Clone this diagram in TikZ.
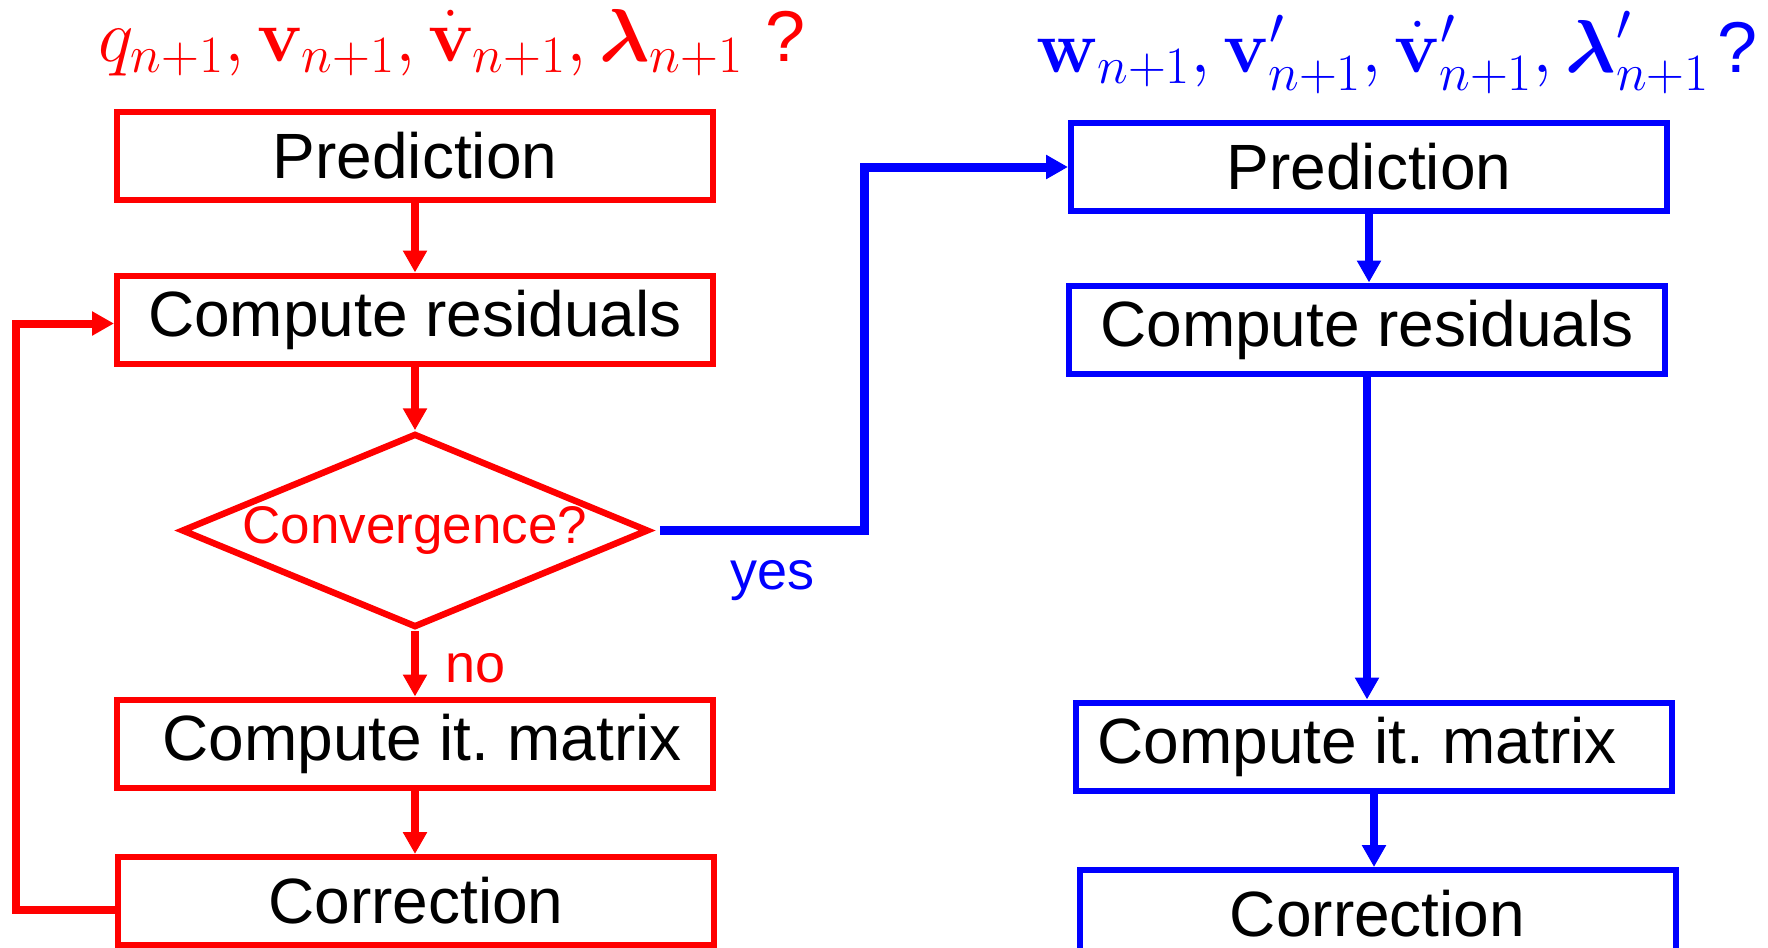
\documentclass[tikz,border=0pt]{standalone}
\usepackage{fix-cm}
\usepackage{amsmath}
\usepackage[no-math]{fontspec}
\newfontfamily\helv{Liberation Sans}
\usetikzlibrary{arrows.meta,shapes.geometric}

\tikzset{
	stage/.style={draw, line width=3pt, minimum width=298pt, minimum height=44pt, inner sep=0pt, text=black, font=\helv\fontsize{32}{38}\selectfont},
	test/.style={draw, diamond, aspect=2.4, line width=3.25pt, minimum width=233.5pt, minimum height=97pt, inner sep=-2pt, font=\helv\fontsize{26.5}{32}\selectfont},
	flow/.style={line width=4pt, -{Triangle[length=11pt,width=11.5pt]}},
	answer/.style={font=\helv\fontsize{27}{32}\selectfont},
	unknowns/.style={anchor=base west, inner sep=0pt, font=\fontsize{37.5}{44}\selectfont}
}
\newcommand{\qmark}{{\helv\fontsize{36}{42}\selectfont ?}}

\begin{document}
\begin{tikzpicture}[x=0.5pt,y=0.5pt,yscale=-1]
	\useasboundingbox (0,0) rectangle (1768,948);
	\clip (0,0) rectangle (1768,948);
	
	% Text Node
	\node [unknowns, red] (titleL) at (98,61) {$q_{n+1}, \mathbf{v}_{n+1}, \dot{\mathbf{v}}_{n+1}, \boldsymbol{\lambda}_{n+1}$\hspace{0.3em}\qmark};
	% Text Node
	\node [unknowns, blue] (titleR) at (1036,72) {$\mathbf{w}_{n+1}, \mathbf{v}'_{n+1}, \dot{\mathbf{v}}'_{n+1}, \boldsymbol{\lambda}'_{n+1}$\hspace{0.1em}\qmark};
	
	%Red iteration
	\node [stage, draw=red] (predL) at (415,155.5) {Prediction};
	\node [stage, draw=red] (resL) at (415,319.5) {Compute residuals};
	\node [test, draw=red, text=red] (convL) at (415,530.5) {Convergence?};
	\node [stage, draw=red] (itmL) at (415,743.5) {\hspace*{7pt}Compute it.\ matrix};
	\node [stage, draw=red] (corL) at (416,901) {Correction};
	
	%Blue iteration
	\node [stage, draw=blue] (predR) at (1369,167) {Prediction};
	\node [stage, draw=blue] (resR) at (1367,329.5) {Compute residuals};
	\node [stage, draw=blue] (itmR) at (1374,746.5) {Compute it.\ matrix\hspace*{17pt}};
	\node [stage, draw=blue] (corR) at (1377.5,914) {Correction};
	
	%Straight Lines
	\draw [flow, red] (predL) -- (resL);
	\draw [flow, red] (resL) -- (convL);
	\draw [flow, red] (convL) -- node [answer, pos=0.57, right=10pt] (no) {no} (itmL);
	\draw [flow, red] (itmL.south) -- (itmL.south |- corL.north);
	\draw [flow, red] ([yshift=4.5pt]corL.west) -- ++(-99.5,0) |- ([yshift=2pt]resL.west);
	
	%Straight Lines
	\coordinate (turn) at (864.5,530.5);
	\draw [flow, blue, line width=4.5pt] ([xshift=4pt]convL.east) -- node [answer, pos=0.55, below=9.5pt] (yes) {yes} (turn) |- (predR.west);
	\draw [flow, blue] (predR.south) -- (predR.south |- resR.north);
	\draw [flow, blue] (resR.south) -- (resR.south |- itmR.north);
	\draw [flow, blue] (itmR.south) -- (itmR.south |- corR.north);
	
\end{tikzpicture}
\end{document}
